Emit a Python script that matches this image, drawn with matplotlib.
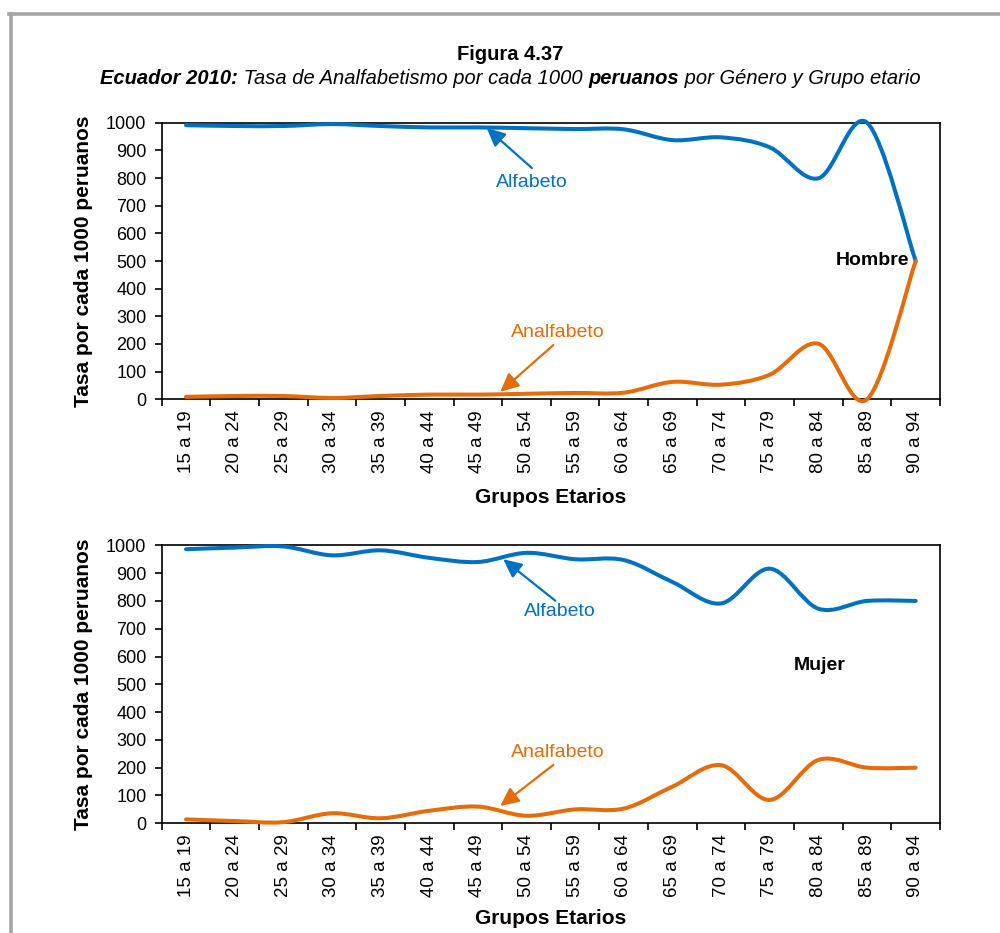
import numpy as np
import matplotlib
matplotlib.use('Agg')
import matplotlib.pyplot as plt
from matplotlib.path import Path
from matplotlib.patches import PathPatch
from matplotlib.lines import Line2D

plt.rcParams['font.family'] = ['Liberation Sans', 'DejaVu Sans']

grupos = ['15 a 19', '20 a 24', '25 a 29', '30 a 34', '35 a 39', '40 a 44',
          '45 a 49', '50 a 54', '55 a 59', '60 a 64', '65 a 69', '70 a 74',
          '75 a 79', '80 a 84', '85 a 89', '90 a 94']

# Hombre
h_alfa = [991, 988, 988, 995, 988, 983, 983, 980, 977, 976, 937, 947, 911, 799, 1000, 500]
h_analfa = [9, 12, 12, 5, 12, 17, 17, 20, 23, 24, 63, 53, 89, 201, 0, 500]

# Mujer
m_alfa = [986, 992, 996, 964, 982, 955, 940, 973, 950, 947, 868, 791, 916, 772, 800, 800]
m_analfa = [14, 8, 4, 36, 18, 45, 60, 27, 50, 53, 132, 209, 84, 228, 200, 200]

AZUL = '#0070C0'
NARANJA = '#E46C0A'


def smooth_path(xs, ys):
    # curva suavizada tipo Excel (Catmull-Rom como Bezier cubico)
    pts = np.column_stack([xs, ys]).astype(float)
    n = len(pts)
    verts = [pts[0]]
    codes = [Path.MOVETO]
    for i in range(n - 1):
        p0 = pts[max(i - 1, 0)]
        p1 = pts[i]
        p2 = pts[i + 1]
        p3 = pts[min(i + 2, n - 1)]
        verts += [p1 + (p2 - p0) / 6, p2 - (p3 - p1) / 6, p2]
        codes += [Path.CURVE4] * 3
    return Path(verts, codes)


def panel(ax, alfa, analfa, genero, gen_xy, gen_ha, ann):
    x = np.arange(len(grupos))
    for serie, col in ((alfa, AZUL), (analfa, NARANJA)):
        ax.add_patch(PathPatch(smooth_path(x, serie), fill=False, edgecolor=col,
                               lw=2.9, capstyle='round', joinstyle='round',
                               clip_on=False, zorder=3))
    ax.set_xlim(-0.5, 15.5)
    ax.set_ylim(0, 1000)
    ax.set_yticks(range(0, 1001, 100))
    ax.set_xticks(x)
    ax.set_xticklabels(grupos, rotation=90, fontsize=13.5)
    ax.set_xticks(np.arange(-0.5, 16, 1), minor=True)
    ax.tick_params(axis='x', which='major', length=0, pad=8)
    ax.tick_params(axis='x', which='minor', length=5, width=1.2, direction='out')
    ax.tick_params(axis='y', length=5, width=1.2, pad=6, labelsize=13)
    for sp in ax.spines.values():
        sp.set_linewidth(1.2)
        sp.set_color('black')
    ax.set_ylabel('Tasa por cada 1000 peruanos', fontsize=15, fontweight='bold')
    ax.yaxis.set_label_coords(-0.088, 0.5)

    ax.text(gen_xy[0], gen_xy[1], genero, fontsize=14, fontweight='bold',
            ha=gen_ha, va='center', zorder=4)

    for (txt, col, txy, tail, head) in ann:
        ax.text(txy[0], txy[1], txt, color=col, fontsize=14, ha='center', va='center')
        ax.annotate('', xy=head, xytext=tail,
                    arrowprops=dict(arrowstyle='-|>,head_length=0.8,head_width=0.38',
                                    color=col, lw=1.6, shrinkA=0, shrinkB=0,
                                    mutation_scale=14))


fig = plt.figure(figsize=(10, 9.33), dpi=100)

ax1 = fig.add_axes([0.1617, 0.572, 0.7783, 0.2965])
ax2 = fig.add_axes([0.1617, 0.1176, 0.7783, 0.2979])

panel(ax1, h_alfa, h_analfa, 'Hombre', (14.86, 503), 'right',
      [('Alfabeto', AZUL, (7.11, 785), (7.11, 836), (6.18, 981)),
       ('Analfabeto', NARANJA, (7.65, 241), (7.55, 196), (6.46, 27))])
panel(ax2, m_alfa, m_analfa, 'Mujer', (13.03, 569), 'center',
      [('Alfabeto', AZUL, (7.69, 761), (7.59, 801), (6.52, 950)),
       ('Analfabeto', NARANJA, (7.65, 254), (7.55, 210), (6.46, 62))])

ax1.text(0.5, -0.355, 'Grupos Etarios', transform=ax1.transAxes, ha='center',
         va='center', fontsize=15, fontweight='bold')
ax2.text(0.5, -0.343, 'Grupos Etarios', transform=ax2.transAxes, ha='center',
         va='center', fontsize=15, fontweight='bold')

# titulo
fig.text(0.51, 1 - 54 / 933, 'Figura 4.37', ha='center', va='center',
         fontsize=14.5, fontweight='bold')

partes = [('Ecuador 2010:', 'bold'), (' Tasa de Analfabetismo por cada 1000 ', 'normal'),
          ('peruanos', 'bold'), (' por Género y Grupo etario', 'normal')]
ren = fig.canvas.get_renderer()
ysub = 1 - 79 / 933
objs = []
for s, w in partes:
    t = fig.text(0, ysub, s, ha='left', va='center', fontsize=14.5,
                 fontweight=w, style='italic')
    objs.append(t)
anchos = [t.get_window_extent(ren).width / fig.bbox.width for t in objs]
xpos = 0.5105 - sum(anchos) / 2
for t, a in zip(objs, anchos):
    t.set_x(xpos)
    xpos += a

# marco gris
fig.add_artist(Line2D([0.009, 1.0], [0.985, 0.985], transform=fig.transFigure,
                      color='#a6a6a6', lw=2.6))
fig.add_artist(Line2D([0.011, 0.011], [0.0, 0.985], transform=fig.transFigure,
                      color='#a6a6a6', lw=2.6))

fig.savefig('out.png', dpi=100)
